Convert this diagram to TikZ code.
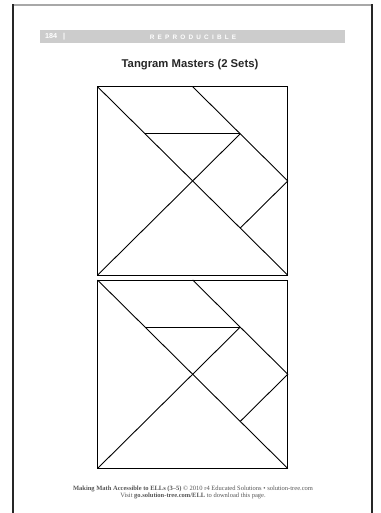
\documentclass[tikz,border=0pt]{standalone}
\usepackage{fontspec}
\usepackage{tikz}
\usetikzlibrary{positioning}
\setmainfont{Liberation Serif}
\newfontfamily\headfont{Liberation Sans}
\definecolor{barfill}{HTML}{CCCCCC}
\definecolor{frametop}{HTML}{A8A8A8}
\definecolor{footgray}{HTML}{555555}

\tikzset{
  piece/.style={line width=0.9pt,line join=miter},
  frame/.style={line width=1.4pt},
}

\begin{document}
\begin{tikzpicture}[x=1pt,y=-1pt]
  \useasboundingbox (0,0) rectangle (380,513);
  % page frame
  \draw[frame,frametop] (13,5)--(372,5);
  \draw[frame,black!85] (13,513)--(13,4.3);
  \draw[frame,black!85] (372,513)--(372,4.3);
  % header bar
  \fill[barfill] (40,30) rectangle (345,43);
  \node[anchor=west,inner sep=0pt,text=white,font=\headfont\bfseries\fontsize{7.2}{8}\selectfont] (pgno) at (45,36.8) {184\kern6pt|};
  \node[inner sep=0pt,text=white,font=\headfont\bfseries\fontsize{6.4}{8}\selectfont] (repro) at (193,36.8)
    {R\kern3.2pt E\kern3.2pt P\kern3.2pt R\kern3.2pt O\kern3.2pt D\kern3.2pt U\kern3.2pt C\kern3.2pt I\kern3.2pt B\kern3.2pt L\kern3.2pt E};
  % title
  \node[inner sep=0pt,text=black!85,font=\headfont\bfseries\fontsize{11.3}{13}\selectfont] (title) at (190,65) {Tangram Masters (2 Sets)};
  % the two tangram squares
  \foreach \n/\top in {A/86.7,B/280}{
    \begin{scope}[shift={(97.5,\top)},x=190.3pt,y=-188.5pt]
      \coordinate (\n tl) at (0,0);
      \coordinate (\n tr) at (1,0);
      \coordinate (\n br) at (1,1);
      \coordinate (\n bl) at (0,1);
      \coordinate (\n tm) at (0.5,0);
      \coordinate (\n rm) at (1,0.5);
      \coordinate (\n p) at (0.75,0.25);
      \coordinate (\n q) at (0.25,0.25);
      \coordinate (\n r) at (0.75,0.75);
      \draw[piece] (\n tl) rectangle (\n br);
      \draw[piece] (\n tl)--(\n br);
      \draw[piece] (\n bl)--(\n p);
      \draw[piece] (\n q)--(\n p);
      \draw[piece] (\n tm)--(\n rm)--(\n r);
    \end{scope}
  }
  % footer
  \node[inner sep=0pt,text=footgray,font=\fontsize{6.5}{7.5}\selectfont] (foot1) at (193,489)
    {\textbf{Making Math Accessible to ELLs (3–5)} © 2010 r4 Educated Solutions • solution-tree.com};
  \node[inner sep=0pt,text=footgray,font=\fontsize{6.5}{7.5}\selectfont,below=0.9pt of foot1] (foot2)
    {Visit \textbf{go.solution-tree.com/ELL} to download this page.};
\end{tikzpicture}
\end{document}
